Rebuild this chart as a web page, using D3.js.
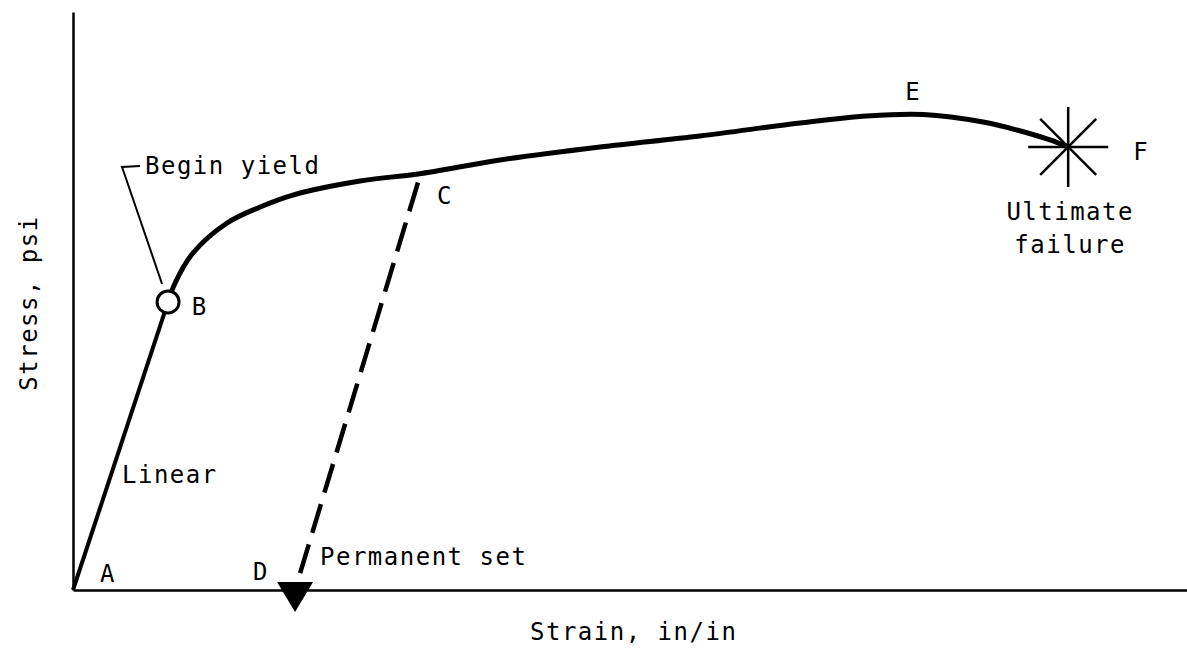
<!DOCTYPE html>
<html>
<head>
<meta charset="utf-8">
<script src="https://cdn.jsdelivr.net/npm/d3@7"></script>
<style>
  body { margin: 0; background: #fff; }
  svg text { font-family: "DejaVu Sans Mono", "Liberation Mono", monospace; font-size: 24px; letter-spacing: 1.5px; fill: #000; }
</style>
</head>
<body>
<svg id="chart" width="1187" height="652"></svg>
<script>
// elastic part A -> B (strain in/in, stress psi)
var linearPart = [[0, 0], [0.0256, 29900]];

// plastic part B -> F
var plasticPart = [
    [0.0256, 29900], [0.0275, 31870], [0.0323, 34980], [0.0415, 38100],
    [0.0504, 39760], [0.0592, 41000], [0.0773, 42460], [0.0929, 43190],
    [0.1150, 44640], [0.1419, 45990], [0.1688, 47130], [0.1958, 48480],
    [0.2138, 49210], [0.2290, 49360], [0.2451, 48580], [0.2542, 47750],
    [0.2631, 46720], [0.2680, 45990]
];

// unloading line C -> D
var unloading = [[0.0929, 42300], [0.0598, 0]];

var pointB = [0.0256, 29900];
var pointD = [0.0598, 0];
var pointF = [0.2680, 45990];

var letterNames = ['A', 'B', 'C', 'D', 'E', 'F'];
var letterAt = [[0.0073, 830], [0.0320, 28550], [0.0980, 40070], [0.0485, 1040], [0.2241, 50870], [0.2855, 44640]];

var xScale = d3.scaleLinear().domain([0, 0.30]).range([73, 1187]);
var yScale = d3.scaleLinear().domain([0, 60000]).range([590, 12]);

var svg = d3.select('#chart');

// axes without ticks
svg.append('g')
    .attr('transform', 'translate(0,' + yScale(0) + ')')
    .call(d3.axisBottom(xScale).ticks(0).tickSize(0))
    .select('.domain').attr('stroke-width', 2.5);
svg.append('g')
    .attr('transform', 'translate(' + xScale(0) + ',0)')
    .call(d3.axisLeft(yScale).ticks(0).tickSize(0))
    .select('.domain').attr('stroke-width', 2.5);

var line = d3.line()
    .x(function(d) { return xScale(d[0]); })
    .y(function(d) { return yScale(d[1]); });

svg.append('path')
    .attr('d', line(linearPart))
    .attr('fill', 'none').attr('stroke', '#000').attr('stroke-width', 4);

svg.append('path')
    .attr('d', line.curve(d3.curveCatmullRom)(plasticPart))
    .attr('fill', 'none').attr('stroke', '#000').attr('stroke-width', 5);

svg.append('path')
    .attr('d', d3.line().x(function(d) { return xScale(d[0]); }).y(function(d) { return yScale(d[1]); })(unloading))
    .attr('fill', 'none').attr('stroke', '#000').attr('stroke-width', 4.5)
    .attr('stroke-dasharray', '30,12');

// begin yield leader
var bx = xScale(pointB[0]), by = yScale(pointB[1]);
svg.append('path')
    .attr('d', 'M' + (bx - 6) + ',' + (by - 18) + 'L' + (bx - 46) + ',' + (by - 135) + 'L' + (bx - 28) + ',' + (by - 136))
    .attr('fill', 'none').attr('stroke', '#000').attr('stroke-width', 2);

svg.append('circle')
    .attr('cx', bx).attr('cy', by).attr('r', 11)
    .attr('fill', '#fff').attr('stroke', '#000').attr('stroke-width', 3);

// permanent set marker
var dx = xScale(pointD[0]), dy = yScale(pointD[1]);
svg.append('path')
    .attr('d', 'M' + (dx - 18) + ',' + (dy - 8) + 'L' + (dx + 18) + ',' + (dy - 8) + 'L' + dx + ',' + (dy + 22) + 'Z')
    .attr('fill', '#000');

// ultimate failure star
var fx = xScale(pointF[0]), fy = yScale(pointF[1]);
var arms = [[0, 40], [40, 0], [28, 28], [28, -28]];
svg.selectAll('line.star').data(arms).enter().append('line')
    .attr('class', 'star')
    .attr('x1', function(d) { return fx - d[0]; })
    .attr('y1', function(d) { return fy - d[1]; })
    .attr('x2', function(d) { return fx + d[0]; })
    .attr('y2', function(d) { return fy + d[1]; })
    .attr('stroke', '#000').attr('stroke-width', 2.5);

// point letters
svg.selectAll('text.letter').data(letterNames).enter().append('text')
    .attr('class', 'letter')
    .attr('x', function(d, i) { return xScale(letterAt[i][0]); })
    .attr('y', function(d, i) { return yScale(letterAt[i][1]); })
    .text(function(d) { return d; });

svg.append('text').attr('x', 145).attr('y', 174).text('Begin yield');
svg.append('text').attr('x', 122).attr('y', 483).text('Linear');
svg.append('text').attr('x', 320).attr('y', 565).text('Permanent set');
svg.append('text').attr('x', fx + 2).attr('y', 220).attr('text-anchor', 'middle').text('Ultimate');
svg.append('text').attr('x', fx + 2).attr('y', 253).attr('text-anchor', 'middle').text('failure');

svg.append('text').attr('x', 530).attr('y', 640).text('Strain, in/in');

svg.append('text')
    .attr('transform', 'rotate(-90)')
    .attr('x', -303).attr('y', 37)
    .style('text-anchor', 'middle')
    .text('Stress, psi');
</script>
</body>
</html>
